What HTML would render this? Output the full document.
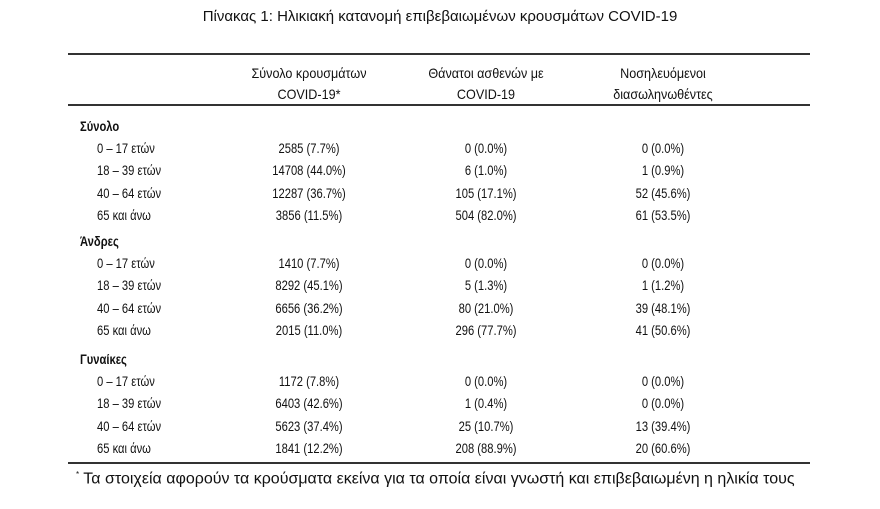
<!DOCTYPE html>
<html><head><meta charset="utf-8"><style>
body{margin:0;background:#fff;width:880px;height:509px;position:relative;overflow:hidden;font-family:"Liberation Sans","DejaVu Sans",sans-serif;color:#111}
.t{position:absolute;white-space:nowrap;font-size:14px;transform:scaleX(0.8);line-height:16px}
.c{transform:translateX(-50%) scaleX(0.8)}
.l{transform-origin:left center}
.rule{position:absolute;left:68px;width:742px;background:#333}
</style></head><body>
<div class="t c" style="left:440px;top:9px;font-size:15px;transform:translateX(-50%)">Πίνακας 1: Ηλικιακή κατανομή επιβεβαιωμένων κρουσμάτων COVID-19</div>
<div class="rule" style="top:53px;height:2px"></div>
<div class="rule" style="top:104px;height:2px"></div>
<div class="rule" style="top:462px;height:2px"></div>
<div class="t c" style="left:309px;top:63px;text-align:center;line-height:21px;font-size:14px;transform:translateX(-50%) scaleX(0.9)">Σύνολο κρουσμάτων<br>COVID-19*</div>
<div class="t c" style="left:486px;top:63px;text-align:center;line-height:21px;font-size:14px;transform:translateX(-50%) scaleX(0.9)">Θάνατοι ασθενών με<br>COVID-19</div>
<div class="t c" style="left:663px;top:63px;text-align:center;line-height:21px;font-size:14px;transform:translateX(-50%) scaleX(0.9)">Νοσηλευόμενοι<br>διασωληνωθέντες</div>
<div id="body"></div>
<div class="t l" style="left:76px;top:467px;font-size:16px;transform:none"><sup style="font-size:8px">*</sup> Τα στοιχεία αφορούν τα κρούσματα εκείνα για τα οποία είναι γνωστή και επιβεβαιωμένη η ηλικία τους</div>
<script>
const groups=["Σύνολο","Άνδρες","Γυναίκες"];
const groupTops=[118,233,351];
const ages=["0 – 17 ετών","18 – 39 ετών","40 – 64 ετών","65 και άνω"];
const cases=[["2585 (7.7%)","14708 (44.0%)","12287 (36.7%)","3856 (11.5%)"],["1410 (7.7%)","8292 (45.1%)","6656 (36.2%)","2015 (11.0%)"],["1172 (7.8%)","6403 (42.6%)","5623 (37.4%)","1841 (12.2%)"]];
const deaths=[["0 (0.0%)","6 (1.0%)","105 (17.1%)","504 (82.0%)"],["0 (0.0%)","5 (1.3%)","80 (21.0%)","296 (77.7%)"],["0 (0.0%)","1 (0.4%)","25 (10.7%)","208 (88.9%)"]];
const intub=[["0 (0.0%)","1 (0.9%)","52 (45.6%)","61 (53.5%)"],["0 (0.0%)","1 (1.2%)","39 (48.1%)","41 (50.6%)"],["0 (0.0%)","0 (0.0%)","13 (39.4%)","20 (60.6%)"]];
const b=document.getElementById('body');
function add(txt,x,y,cls,name,bold){const d=document.createElement('div');d.className='t '+cls;d.textContent=txt;d.style.left=x+'px';d.style.top=y+'px';if(bold)d.style.fontWeight='bold';


b.appendChild(d);}
groups.forEach((g,gi)=>{const y0=groupTops[gi];add(g,80,y0,'l','group-label',true);
ages.forEach((a,ai)=>{const y=y0+22+ai*22.3;add(a,97,y,'l','age-label');add(cases[gi][ai],309,y,'c','cases-cell');add(deaths[gi][ai],486,y,'c','deaths-cell');add(intub[gi][ai],663,y,'c','intubated-cell');});});
</script>
</body></html>
